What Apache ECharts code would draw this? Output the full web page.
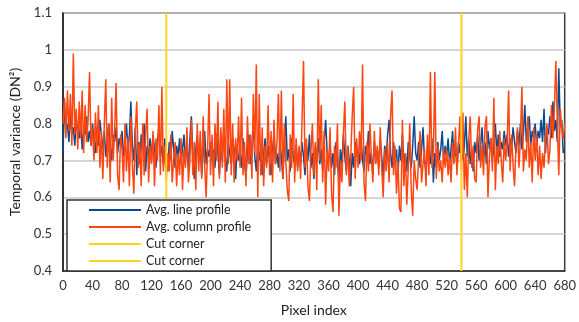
<!DOCTYPE html>
<html>
<head>
<meta charset="utf-8">
<script src="https://cdn.jsdelivr.net/npm/echarts@6/dist/echarts.min.js"></script>
<style>
  html, body { margin: 0; padding: 0; background: #fff; }
  #chart { width: 579px; height: 322px; }
</style>
</head>
<body>
<div id="chart"></div>
<script>
// pixel step between consecutive samples
const pixelStep = 2

// average line profile (blue), one value per pixelStep, from pixel 0
const lineProfile = [
  0.72, 0.86, 0.78, 0.80, 0.75, 0.83, 0.77, 0.79, 0.74, 0.81, 0.78, 0.76, 0.80, 0.73, 0.79, 0.77, 0.82, 0.75, 0.78, 0.74,
  0.80, 0.76, 0.72, 0.79, 0.74, 0.81, 0.77, 0.73, 0.78, 0.71, 0.76, 0.80, 0.74, 0.70, 0.77, 0.75, 0.79, 0.72, 0.76, 0.74,
  0.78, 0.71, 0.75, 0.80, 0.73, 0.77, 0.86, 0.74, 0.70, 0.79, 0.66, 0.75, 0.69, 0.77, 0.72, 0.80, 0.67, 0.74, 0.71, 0.76,
  0.70, 0.77, 0.73, 0.68, 0.75, 0.79, 0.71, 0.74, 0.69, 0.76, 0.72, 0.67, 0.75, 0.70, 0.78, 0.73, 0.68, 0.74, 0.71, 0.76,
  0.69, 0.73, 0.77, 0.70, 0.74, 0.68, 0.76, 0.82, 0.71, 0.65, 0.73, 0.77, 0.70, 0.74, 0.66, 0.72, 0.78, 0.69, 0.73, 0.71,
  0.75, 0.70, 0.73, 0.68, 0.77, 0.72, 0.66, 0.74, 0.70, 0.79, 0.71, 0.67, 0.75, 0.72, 0.69, 0.76, 0.73, 0.65, 0.74, 0.70,
  0.72, 0.68, 0.76, 0.70, 0.65, 0.73, 0.77, 0.69, 0.74, 0.80, 0.71, 0.67, 0.75, 0.70, 0.73, 0.66, 0.72, 0.76, 0.69, 0.74,
  0.70, 0.66, 0.73, 0.77, 0.69, 0.72, 0.68, 0.75, 0.71, 0.65, 0.74, 0.82, 0.70, 0.73, 0.67, 0.76, 0.71, 0.69, 0.74, 0.68,
  0.73, 0.69, 0.75, 0.71, 0.66, 0.74, 0.70, 0.77, 0.68, 0.72, 0.65, 0.74, 0.70, 0.76, 0.69, 0.73, 0.67, 0.75, 0.81, 0.72,
  0.70, 0.74, 0.68, 0.72, 0.66, 0.75, 0.70, 0.64, 0.73, 0.69, 0.77, 0.71, 0.67, 0.74, 0.70, 0.63, 0.72, 0.68, 0.75, 0.71,
  0.73, 0.69, 0.76, 0.70, 0.67, 0.74, 0.71, 0.78, 0.69, 0.72, 0.66, 0.75, 0.70, 0.73, 0.68, 0.76, 0.71, 0.65, 0.74, 0.70,
  0.77, 0.81, 0.72, 0.68, 0.75, 0.70, 0.73, 0.66, 0.74, 0.70, 0.77, 0.69, 0.72, 0.67, 0.75, 0.71, 0.68, 0.74, 0.82, 0.72,
  0.70, 0.75, 0.68, 0.73, 0.79, 0.70, 0.67, 0.74, 0.71, 0.69, 0.76, 0.64, 0.72, 0.68, 0.75, 0.70, 0.73, 0.78, 0.69, 0.74,
  0.71, 0.76, 0.69, 0.73, 0.78, 0.70, 0.74, 0.68, 0.75, 0.72, 0.77, 0.70, 0.74, 0.82, 0.71, 0.76, 0.69, 0.73, 0.67, 0.75,
  0.72, 0.77, 0.70, 0.74, 0.79, 0.71, 0.75, 0.69, 0.78, 0.73, 0.76, 0.70, 0.74, 0.80, 0.72, 0.77, 0.71, 0.75, 0.73, 0.78,
  0.74, 0.77, 0.71, 0.76, 0.73, 0.79, 0.75, 0.72, 0.78, 0.74, 0.80, 0.73, 0.77, 0.85, 0.75, 0.79, 0.82, 0.74, 0.78, 0.76,
  0.80, 0.74, 0.78, 0.76, 0.81, 0.75, 0.84, 0.72, 0.79, 0.77, 0.82, 0.76, 0.86, 0.78, 0.81, 0.75, 0.95, 0.79, 0.81, 0.72, 0.73
]

// average column profile (orange)
const columnProfile = [
  0.80, 0.87, 0.76, 0.89, 0.78, 0.88, 0.74, 0.99, 0.77, 0.84, 0.73, 0.86, 0.76, 0.89, 0.72, 0.85, 0.75, 0.81, 0.94, 0.74,
  0.79, 0.70, 0.83, 0.72, 0.85, 0.68, 0.78, 0.65, 0.80, 0.92, 0.68, 0.80, 0.64, 0.87, 0.70, 0.78, 0.91, 0.66, 0.62, 0.77,
  0.73, 0.64, 0.80, 0.67, 0.76, 0.63, 0.82, 0.69, 0.61, 0.78, 0.86, 0.68, 0.75, 0.63, 0.80, 0.66, 0.77, 0.84, 0.64, 0.74,
  0.69, 0.78, 0.63, 0.76, 0.70, 0.85, 0.66, 0.90, 0.67, 0.74, 0.65, 0.72, 0.67, 0.77, 0.64, 0.70, 0.75, 0.63, 0.72, 0.66,
  0.76, 0.62, 0.73, 0.68, 0.79, 0.64, 0.70, 0.81, 0.66, 0.75, 0.62, 0.80, 0.67, 0.78, 0.65, 0.82, 0.69, 0.60, 0.73, 0.88,
  0.66, 0.77, 0.63, 0.80, 0.70, 0.86, 0.65, 0.79, 0.68, 0.84, 0.64, 0.92, 0.69, 0.92, 0.66, 0.80, 0.64, 0.76, 0.70, 0.82,
  0.68, 0.87, 0.66, 0.75, 0.63, 0.82, 0.69, 0.77, 0.65, 0.88, 0.72, 0.96, 0.60, 0.88, 0.66, 0.79, 0.63, 0.74, 0.68, 0.85,
  0.66, 0.78, 0.64, 0.81, 0.69, 0.75, 0.88, 0.67, 0.89, 0.65, 0.80, 0.70, 0.62, 0.59, 0.77, 0.68, 0.88, 0.64, 0.76, 0.67,
  0.74, 0.65, 0.81, 0.97, 0.68, 0.76, 0.63, 0.59, 0.72, 0.80, 0.66, 0.75, 0.62, 0.92, 0.70, 0.85, 0.64, 0.78, 0.58, 0.73,
  0.67, 0.79, 0.61, 0.56, 0.74, 0.68, 0.80, 0.55, 0.70, 0.64, 0.77, 0.86, 0.66, 0.74, 0.63, 0.71, 0.82, 0.90, 0.65, 0.76,
  0.68, 0.78, 0.70, 0.96, 0.64, 0.59, 0.75, 0.67, 0.80, 0.71, 0.64, 0.78, 0.69, 0.74, 0.66, 0.79, 0.68, 0.60, 0.73, 0.67,
  0.75, 0.64, 0.82, 0.89, 0.66, 0.74, 0.61, 0.70, 0.57, 0.56, 0.81, 0.63, 0.72, 0.58, 0.68, 0.80, 0.62, 0.55, 0.70, 0.65,
  0.62, 0.71, 0.78, 0.64, 0.69, 0.73, 0.63, 0.77, 0.66, 0.94, 0.68, 0.72, 0.94, 0.65, 0.74, 0.67, 0.70, 0.64, 0.73, 0.68,
  0.73, 0.66, 0.71, 0.64, 0.75, 0.69, 0.79, 0.66, 0.74, 0.82, 0.67, 0.83, 0.62, 0.72, 0.60, 0.76, 0.82, 0.68, 0.74, 0.65,
  0.64, 0.78, 0.82, 0.68, 0.74, 0.66, 0.79, 0.82, 0.60, 0.71, 0.76, 0.67, 0.87, 0.62, 0.74, 0.69, 0.78, 0.70, 0.64, 0.76,
  0.70, 0.75, 0.89, 0.67, 0.77, 0.69, 0.63, 0.74, 0.79, 0.68, 0.76, 0.90, 0.67, 0.73, 0.70, 0.82, 0.68, 0.75, 0.64, 0.79,
  0.70, 0.77, 0.66, 0.74, 0.65, 0.72, 0.68, 0.76, 0.80, 0.69, 0.73, 0.85, 0.76, 0.84, 0.97, 0.80, 0.66, 0.84, 0.79, 0.76, 0.80
]

// cut corner positions (pixel index)
const cutCorners = [140, 540]

const yMin = 0.4
const yMax = 1.1

const chart = echarts.init(document.getElementById('chart'), null, { renderer: 'canvas' })

const toPoints = arr => arr.map((v, i) => [i * pixelStep, v])
const font = 'Lato, "Open Sans", sans-serif'

chart.setOption({
  animation: false,
  textStyle: { fontFamily: font },
  grid: {
    left: 63,
    right: 11,
    top: 13,
    bottom: 51,
    show: true,
    borderColor: '#3a3a3a',
    borderWidth: 1.5,
    backgroundColor: '#fff'
  },
  legend: {
    orient: 'vertical',
    left: 67,
    top: 200,
    z: 20,
    padding: [3, 20, 3, 22],
    itemGap: 3,
    itemWidth: 52,
    itemHeight: 2,
    icon: 'rect',
    backgroundColor: '#fff',
    borderColor: '#333',
    borderWidth: 1.5,
    textStyle: { fontFamily: font, fontSize: 12.5, color: '#222', lineHeight: 14 },
    formatter: name => name.trim(),
    data: ['Avg. line profile', 'Avg. column profile', 'Cut corner', 'Cut corner ']
  },
  xAxis: {
    type: 'value',
    min: 0,
    max: 680,
    interval: 40,
    name: 'Pixel index',
    nameLocation: 'middle',
    nameGap: 32,
    nameTextStyle: { fontSize: 14, color: '#222', fontFamily: font },
    axisLine: { onZero: false, lineStyle: { color: '#222', width: 1.5 } },
    axisTick: { show: false },
    axisLabel: { fontSize: 13, color: '#333', margin: 8 },
    splitLine: { show: false }
  },
  yAxis: {
    type: 'value',
    min: yMin,
    max: yMax,
    interval: 0.1,
    name: 'Temporal variance (DN²)',
    nameLocation: 'middle',
    nameGap: 40,
    nameTextStyle: { fontSize: 14, color: '#222', fontFamily: font },
    axisLine: { show: true, lineStyle: { color: '#222', width: 1.5 } },
    axisTick: { show: false },
    axisLabel: {
      fontSize: 13,
      color: '#333',
      margin: 11,
      formatter: v => String(+v.toFixed(1))
    },
    splitLine: { lineStyle: { color: '#c8c8c8', width: 1.5 } }
  },
  series: [
    {
      name: 'Avg. line profile',
      type: 'line',
      symbol: 'none',
      data: toPoints(lineProfile),
      lineStyle: { color: '#0b4a8e', width: 1.5 },
      itemStyle: { color: '#0b4a8e' },
      z: 2
    },
    {
      name: 'Avg. column profile',
      type: 'line',
      symbol: 'none',
      data: toPoints(columnProfile),
      lineStyle: { color: '#ff4510', width: 1.5 },
      itemStyle: { color: '#ff4510' },
      z: 3
    },
    {
      name: 'Cut corner',
      type: 'line',
      symbol: 'none',
      data: [[cutCorners[0], yMin], [cutCorners[0], yMax]],
      lineStyle: { color: '#ffd21f', width: 2 },
      itemStyle: { color: '#ffd21f' },
      z: 3
    },
    {
      name: 'Cut corner ',
      type: 'line',
      symbol: 'none',
      data: [[cutCorners[1], yMin], [cutCorners[1], yMax]],
      lineStyle: { color: '#ffd21f', width: 2 },
      itemStyle: { color: '#ffd21f' },
      z: 3
    }
  ]
})
</script>
</body>
</html>
